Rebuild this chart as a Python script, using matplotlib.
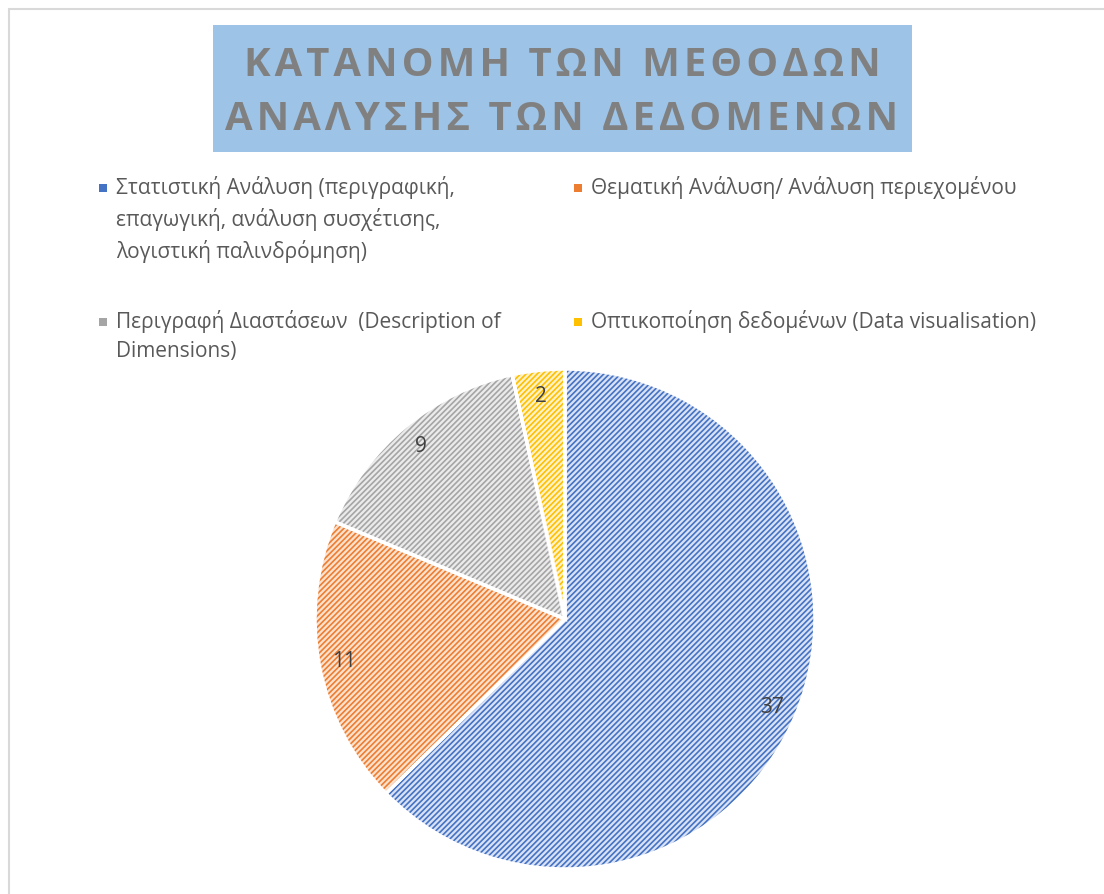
import matplotlib.pyplot as plt
from matplotlib.patches import Rectangle

plt.rcParams['font.family'] = ['Open Sans', 'Noto Sans', 'DejaVu Sans']
plt.rcParams['hatch.linewidth'] = 1.2

# data
labels = ['Στατιστική Ανάλυση (περιγραφική,\nεπαγωγική, ανάλυση συσχέτισης,\nλογιστική παλινδρόμηση)',
          'Θεματική Ανάλυση/ Ανάλυση περιεχομένου',
          'Περιγραφή Διαστάσεων  (Description of\nDimensions)',
          'Οπτικοποίηση δεδομένων (Data visualisation)']
values = [37, 11, 9, 2]
colors = ['#4472c4', '#ed7d31', '#a5a5a5', '#ffc000']
light = ['#d9e2f5', '#fce1cd', '#ebebeb', '#fff2c8']
title_lines = ['ΚΑΤΑΝΟΜΗ ΤΩΝ ΜΕΘΟΔΩΝ', 'ΑΝΑΛΥΣΗΣ ΤΩΝ ΔΕΔΟΜΕΝΩΝ']

W, H = 1104, 895
fig = plt.figure(figsize=(W / 100, H / 100), dpi=100)

# chart border (only left/top visible in the crop)
fig.patches.append(Rectangle((9 / W, -0.1), 1.2, 1 - 10 / H + 0.1, transform=fig.transFigure,
                             fill=False, edgecolor='#d9d9d9', linewidth=1.5))

# title box
fig.patches.append(Rectangle((213 / W, 1 - 153 / H), (912 - 213) / W, (153 - 26) / H,
                             transform=fig.transFigure, facecolor='#9dc3e6', edgecolor='none'))
for i, line in enumerate(title_lines):
    spaced = '\u200a'.join(line)
    fig.text(562 / W, 1 - (65 + i * 54) / H, spaced, ha='center', va='center',
             fontsize=28.8, fontweight='bold', color='#808080')

# pie
ax = fig.add_axes([315 / W, 25 / H, 500 / W, 500 / H])
wedges, texts = ax.pie(values, startangle=90, counterclock=False, colors=light,
                       labels=[str(v) for v in values], labeldistance=0.9,
                       wedgeprops=dict(linewidth=0),
                       textprops=dict(fontsize=15, color='#404040', ha='center', va='center'))
for w, c in zip(wedges, colors):
    w.set_edgecolor(c)
    w.set_hatch('//////')
# white separators on top
ax.pie(values, startangle=90, counterclock=False, colors=['none'] * 4,
       wedgeprops=dict(linewidth=2.5, edgecolor='white', facecolor='none'))
ax.set_xlim(-1, 1)
ax.set_ylim(-1, 1)
for t in texts:
    t.set_zorder(5)

# legend, laid out like the original (2 columns, first line aligned with marker)
leg_x = [103, 578]
leg_y = [189, 323]
for i, (lab, c) in enumerate(zip(labels, colors)):
    x = leg_x[i % 2]
    y = leg_y[i // 2]
    fig.patches.append(Rectangle(((x - 4) / W, 1 - (y + 4) / H), 8 / W, 8 / H,
                                 transform=fig.transFigure, facecolor=c, edgecolor='none'))
    fig.text((x + 13) / W, 1 - (y - 13) / H, lab, ha='left', va='top',
             fontsize=15, color='#595959', linespacing=1.5)

fig.savefig('out.png', dpi=100)
